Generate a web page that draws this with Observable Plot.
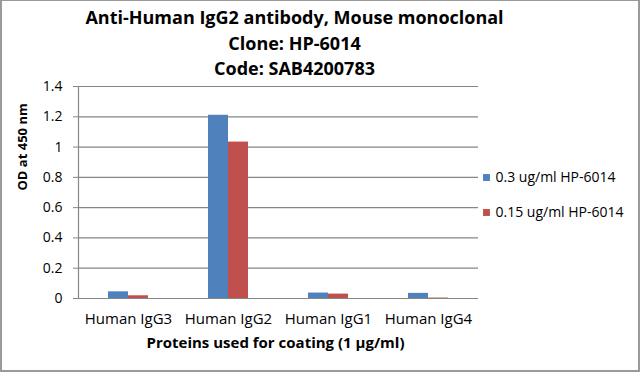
<!DOCTYPE html>
<html>
<head>
<meta charset="utf-8">
<script src="https://cdn.jsdelivr.net/npm/d3@7"></script>
<script src="https://cdn.jsdelivr.net/npm/@observablehq/plot@0.6"></script>
<style>
  html, body { margin: 0; padding: 0; background: #fff; }
  #wrap { position: relative; width: 640px; height: 372px; overflow: hidden; }
  #wrap svg { position: absolute; left: 0; top: 0; }
  #border { position: absolute; left: 0; top: 0; width: 640px; height: 372px; box-sizing: border-box; border: 2px solid #9a9a9a; border-top-width: 1px; pointer-events: none; }
</style>
</head>
<body>
<div id="wrap"><div id="border"></div></div>
<script>
const categories = ["Human IgG3", "Human IgG2", "Human IgG1", "Human IgG4"];
const seriesNames = ["0.3 ug/ml HP-6014", "0.15 ug/ml HP-6014"];
const seriesColors = ["#4F81BD", "#C0504D"];
const blueValues = [0.044, 1.21, 0.036, 0.034];
const redValues = [0.018, 1.033, 0.029, 0.003];
const yTicks = [0, 0.2, 0.4, 0.6, 0.8, 1.0, 1.2, 1.4];
const titleLines = ["Anti-Human IgG2 antibody, Mouse monoclonal", "Clone: HP-6014", "Code: SAB4200783"];
const xAxisLabel = "Proteins used for coating (1 µg/ml)";
const yAxisLabel = "OD at 450 nm";

const blueData = categories.map((c, i) => ({category: c, value: blueValues[i]}));
const redData = categories.map((c, i) => ({category: c, value: redValues[i]}));

const font = "Open Sans, Noto Sans, sans-serif";
const gray = "#868686";
const titleY = [18, 44, 69];

const legendMarks = [];
seriesNames.forEach((s, i) => {
  const cy = [177, 212][i];
  legendMarks.push(Plot.dot([s], {frameAnchor: "top-left", dx: 486 - 78, dy: cy - 86, symbol: "square", r: 3.9, fill: seriesColors[i], stroke: null}));
  legendMarks.push(Plot.text([s], {frameAnchor: "top-left", dx: 495 - 78, dy: cy - 86, textAnchor: "start", lineAnchor: "middle", fontSize: 14, fill: "#000"}));
});

const chart = Plot.plot({
  width: 640,
  height: 372,
  marginLeft: 78,
  marginRight: 162,
  marginTop: 86,
  marginBottom: 74,
  style: {fontFamily: font, background: "transparent", color: "#000"},
  x: {domain: categories, paddingInner: 0.6, paddingOuter: 0.3, axis: null},
  y: {domain: [0, 1.4], axis: null},
  marks: [
    Plot.gridY({ticks: yTicks.slice(1), stroke: gray, strokeOpacity: 1, strokeWidth: 1.2}),
    Plot.barY(blueData, {x: "category", y: "value", fill: seriesColors[0], insetRight: 20}),
    Plot.barY(redData, {x: "category", y: "value", fill: seriesColors[1], insetLeft: 20}),
    Plot.ruleY([0], {stroke: gray, strokeWidth: 1.2}),
    Plot.frame({anchor: "left", stroke: gray, strokeWidth: 1.2}),
    Plot.axisY({ticks: yTicks, tickFormat: d => String(+d.toFixed(1)), tickSize: 5, tickPadding: 11, label: null, stroke: gray, fontSize: 14, fill: "#000"}),
    Plot.axisX({tickSize: 0, tickPadding: 15, label: null, fontSize: 15, fill: "#000"}),
    Plot.text([xAxisLabel], {frameAnchor: "bottom", dx: -3, dy: 45, fontWeight: "bold", fontSize: 15, lineAnchor: "middle", fill: "#000"}),
    Plot.text([yAxisLabel], {frameAnchor: "left", dx: -56, dy: -2, rotate: -90, fontWeight: "bold", fontSize: 13, lineAnchor: "middle", fill: "#000"}),
    ...titleLines.map((t, i) => Plot.text([t], {frameAnchor: "top", dx: 16, dy: titleY[i] - 86, fontWeight: "bold", fontSize: 18, lineAnchor: "middle", fill: "#000"})),
    ...legendMarks
  ]
});
document.getElementById("wrap").prepend(chart);
</script>
</body>
</html>
